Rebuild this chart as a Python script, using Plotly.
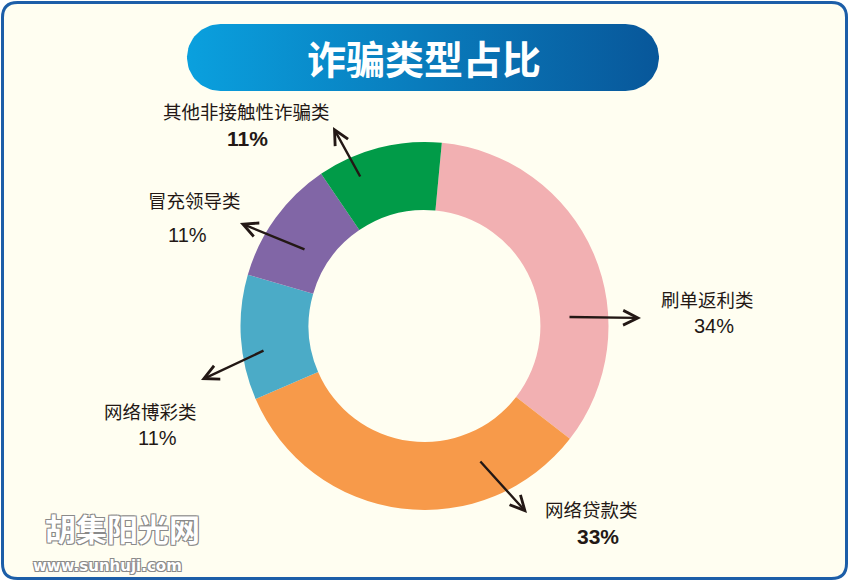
import numpy as np
import plotly.graph_objects as go

# ---- data ----
categories = ["刷单返利类", "网络贷款类", "网络博彩类", "冒充领导类", "其他非接触性诈骗类"]
values = [34, 33, 11, 11, 11]
pct_labels = ["34%", "33%", "11%", "11%", "11%"]
colors = ["#F2B0B2", "#F79A4A", "#4BABC7", "#8166A6", "#019B48"]
title_text = "诈骗类型占比"
watermark_cn = "胡集阳光网"
watermark_url = "www.sunhuji.com"

W, H = 849, 582
FONT = "Noto Sans CJK SC"
NUMFONT = "Liberation Sans"
TXT = "#231815"

fig = go.Figure()

# ---- donut ----
cx, cy, R = 424.5, 326, 184
fig.add_trace(go.Pie(
    labels=categories, values=values, sort=False, direction="clockwise",
    rotation=5.4, hole=0.63, textinfo="none", hoverinfo="skip",
    marker=dict(colors=colors, line=dict(width=0)),
    domain=dict(x=[(cx - R) / W, (cx + R) / W], y=[(H - cy - R) / H, (H - cy + R) / H]),
    showlegend=False,
))

# ---- title banner (rounded pill with horizontal gradient) ----
bx0, bx1, by0, by1 = 187, 659, 24, 91
r = (by1 - by0) / 2
t1 = np.linspace(-np.pi / 2, np.pi / 2, 40)
right = [(bx1 - r + r * np.cos(t), by0 + r + r * np.sin(t)) for t in t1]
t2 = np.linspace(np.pi / 2, 3 * np.pi / 2, 40)
left = [(bx0 + r + r * np.cos(t), by0 + r + r * np.sin(t)) for t in t2]
pts = right + left + [right[0]]
fig.add_trace(go.Scatter(
    x=[p[0] for p in pts], y=[p[1] for p in pts], mode="lines", fill="toself",
    line=dict(width=0, color="rgba(0,0,0,0)"),
    fillgradient=dict(type="horizontal", colorscale=[[0, "#0AA0DE"], [1, "#08579A"]]),
    hoverinfo="skip", showlegend=False,
))

# ---- outer rounded frame ----
x0, y0, x1, y1, rc = 2.5, 2.5, 846.5, 578.5, 15
frame = (f"M{x0+rc},{y0} L{x1-rc},{y0} Q{x1},{y0} {x1},{y0+rc} L{x1},{y1-rc} "
         f"Q{x1},{y1} {x1-rc},{y1} L{x0+rc},{y1} Q{x0},{y1} {x0},{y1-rc} "
         f"L{x0},{y0+rc} Q{x0},{y0} {x0+rc},{y0} Z")
shapes = [dict(type="path", path=frame, xref="x", yref="y", layer="below",
               fillcolor="#FFFEF1", line=dict(color="#1C5EA8", width=3))]

annotations = []
# title
annotations.append(dict(x=424, y=57, xref="x", yref="y", text=f"<b>{title_text}</b>",
                        showarrow=False, font=dict(family=FONT, size=39, color="white")))

# arrows (tail -> tip)
arrows = [
    ((568, 317), (641, 318)),
    ((479, 460), (527, 513)),
    ((265, 350), (201, 380)),
    ((306, 250), (240, 223)),
    ((361, 178), (333, 127)),
]
for (tx, ty), (hx, hy) in arrows:
    annotations.append(dict(x=hx, y=hy, ax=tx, ay=ty, xref="x", yref="y", axref="x", ayref="y",
                            text="", showarrow=True, arrowhead=5, arrowsize=1.2,
                            arrowwidth=2.4, arrowcolor=TXT))

# labels and percentages
label_pos = [(707, 299), (591, 509), (150, 411), (194, 200), (246, 111)]
pct_pos = [(714, 326), (598, 536), (157, 438), (187, 235), (247, 138)]
pct_bold = [False, True, False, False, True]
for i, cat in enumerate(categories):
    lx, ly = label_pos[i]
    annotations.append(dict(x=lx, y=ly, xref="x", yref="y", text=cat, showarrow=False,
                            font=dict(family=FONT, size=18.5, color=TXT)))
    px, py = pct_pos[i]
    t = f"<b>{pct_labels[i]}</b>" if pct_bold[i] else pct_labels[i]
    annotations.append(dict(x=px, y=py, xref="x", yref="y", text=t, showarrow=False,
                            font=dict(family=NUMFONT, size=21 if pct_bold[i] else 20, color=TXT)))

# watermark
outline = "1px 1px 0 #8a8a8a, -1px -1px 0 #8a8a8a, 1px -1px 0 #8a8a8a, -1px 1px 0 #8a8a8a"
annotations.append(dict(x=122, y=527, xref="x", yref="y", text=f"<b>{watermark_cn}</b>",
                        showarrow=False,
                        font=dict(family=FONT, size=31, color="white", shadow=outline)))
annotations.append(dict(x=107, y=566, xref="x", yref="y", text=f"<b>{watermark_url}</b>",
                        showarrow=False,
                        font=dict(family="DejaVu Sans", size=15, color="white", shadow=outline)))

fig.update_layout(
    width=W, height=H, margin=dict(l=0, r=0, t=0, b=0),
    paper_bgcolor="white", plot_bgcolor="rgba(0,0,0,0)",
    xaxis=dict(range=[0, W], visible=False, domain=[0, 1], fixedrange=True),
    yaxis=dict(range=[H, 0], visible=False, domain=[0, 1], fixedrange=True),
    shapes=shapes, annotations=annotations, showlegend=False,
)
fig.write_html("out.html")
